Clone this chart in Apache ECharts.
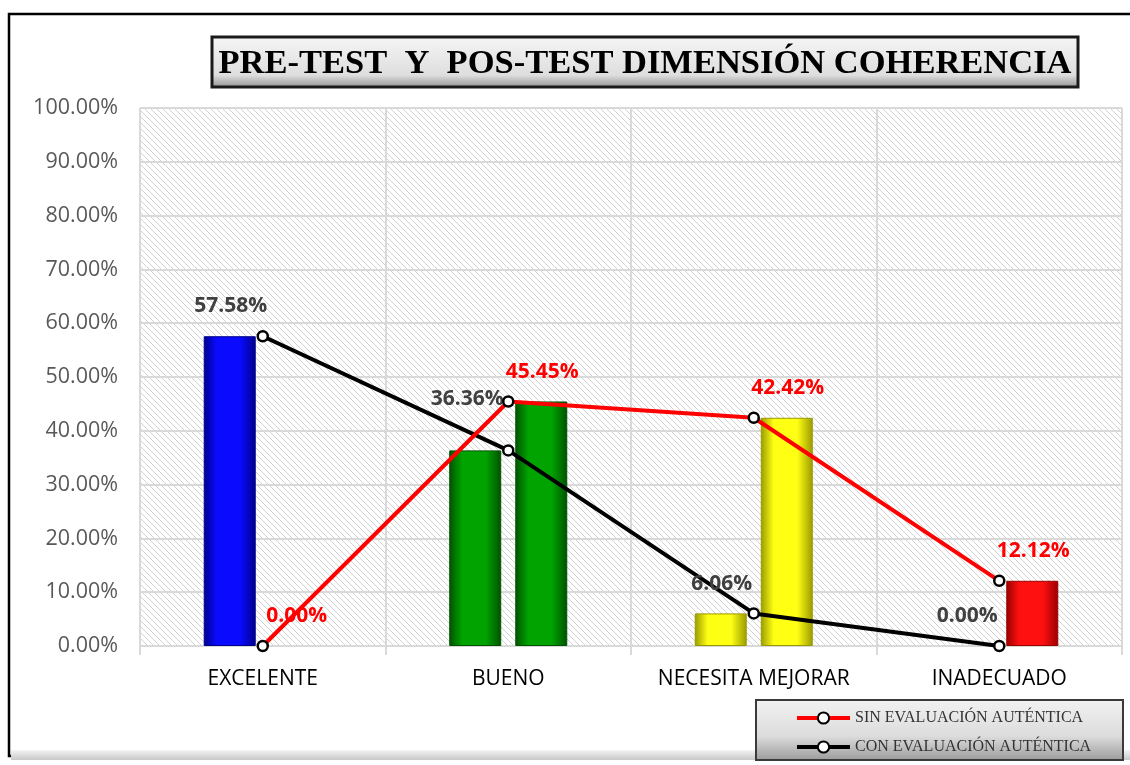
<!DOCTYPE html>
<html>
<head>
<meta charset="utf-8">
<script src="https://cdn.jsdelivr.net/npm/echarts@6/dist/echarts.min.js"></script>
<style>
  html, body { margin: 0; padding: 0; background: #fff; }
  #chart { width: 1130px; height: 765px; }
</style>
</head>
<body>
<div id="chart"></div>
<script>
const categories = ['EXCELENTE', 'BUENO', 'NECESITA MEJORAR', 'INADECUADO'];
const conValues = [57.58, 36.36, 6.06, 0.00];
const sinValues = [0.00, 45.45, 42.42, 12.12];
const yTicks = { min: 0, max: 100, interval: 10 };
const sinName = 'SIN EVALUACIÓN AUTÉNTICA';
const conName = 'CON EVALUACIÓN AUTÉNTICA';
const titleText = 'PRE-TEST  Y  POS-TEST DIMENSIÓN COHERENCIA';

// colores de las barras por categoria: [borde oscuro, centro]
const barColors = [
  ['#00008c', '#0a0aff'],
  ['#005200', '#00a300'],
  ['#9a9a00', '#ffff14'],
  ['#9a0000', '#ff1010']
];

// trama diagonal del fondo
const tile = document.createElement('canvas');
tile.width = 6;
tile.height = 6;
const tctx = tile.getContext('2d');
tctx.fillStyle = '#ffffff';
tctx.fillRect(0, 0, 6, 6);
tctx.strokeStyle = '#d2d2d2';
tctx.lineWidth = 1;
tctx.beginPath();
tctx.moveTo(-1, -1); tctx.lineTo(7, 7);
tctx.moveTo(-4, 2); tctx.lineTo(4, 10);
tctx.moveTo(2, -4); tctx.lineTo(10, 4);
tctx.stroke();

const barItem = (v, i) => ({
  value: v,
  itemStyle: {
    color: new echarts.graphic.LinearGradient(0, 0, 1, 0, [
      { offset: 0, color: barColors[i][0] },
      { offset: 0.25, color: barColors[i][1] },
      { offset: 0.7, color: barColors[i][1] },
      { offset: 1, color: barColors[i][0] }
    ]),
    borderColor: barColors[i][0],
    borderWidth: v > 0 ? 1 : 0
  }
});

const fmt = p => p.value.toFixed(2) + '%';

const myChart = echarts.init(document.getElementById('chart'));
const option = {
  animation: false,
  backgroundColor: '#ffffff',
  legend: {
    data: [sinName, conName],
    orient: 'vertical',
    left: 790,
    top: 705,
    itemWidth: 53,
    itemHeight: 14,
    itemGap: 13,
    lineStyle: { width: 4 },
    textStyle: {
      fontFamily: 'Liberation Serif',
      fontSize: 16,
      color: '#333333'
    }
  },
  grid: {
    left: 140,
    right: 8,
    top: 108,
    bottom: 119,
    show: true,
    borderWidth: 0,
    backgroundColor: { image: tile, repeat: 'repeat' },
    outerBoundsMode: 'none'
  },
  xAxis: {
    type: 'category',
    data: categories,
    axisLine: { lineStyle: { color: '#d9d9d9', width: 2 } },
    axisTick: { show: true, interval: 0, length: 9, lineStyle: { color: '#d9d9d9', width: 2 } },
    splitLine: { show: true, interval: 0, lineStyle: { color: '#d9d9d9', width: 2 } },
    axisLabel: {
      interval: 0,
      hideOverlap: false,
      color: '#000000',
      fontFamily: 'Open Sans',
      fontSize: 21,
      margin: 23
    }
  },
  yAxis: {
    type: 'value',
    min: yTicks.min,
    max: yTicks.max,
    interval: yTicks.interval,
    axisLine: { show: false },
    axisTick: { show: false },
    splitLine: { lineStyle: { color: '#d9d9d9', width: 2 } },
    axisLabel: {
      color: '#595959',
      fontFamily: 'Open Sans',
      fontSize: 21.5,
      margin: 22,
      formatter: v => v.toFixed(2) + '%'
    }
  },
  graphic: [
    {
      type: 'rect',
      z: -10,
      shape: { x: 9, y: 14, width: 1140, height: 742 },
      style: { fill: '#ffffff', stroke: '#000000', lineWidth: 2.5 }
    },
    {
      type: 'rect',
      z: -9,
      shape: { x: 11, y: 750, width: 1130, height: 10 },
      style: {
        fill: new echarts.graphic.LinearGradient(0, 0, 0, 1, [
          { offset: 0, color: '#f4f4f4' },
          { offset: 1, color: '#c8c8c8' }
        ])
      }
    },
    {
      type: 'rect',
      z: 1,
      shape: { x: 212, y: 37, width: 866, height: 50 },
      style: {
        fill: new echarts.graphic.LinearGradient(0, 0, 0, 1, [
          { offset: 0, color: '#f6f6f6' },
          { offset: 0.75, color: '#dedede' },
          { offset: 1, color: '#8c8c8c' }
        ]),
        stroke: '#1a1a1a',
        lineWidth: 3
      }
    },
    {
      type: 'text',
      z: 2,
      x: 645,
      y: 64,
      style: {
        text: titleText,
        fill: '#000000',
        font: 'bold 34.5px "Liberation Serif"',
        align: 'center',
        verticalAlign: 'middle'
      }
    },
    {
      type: 'rect',
      z: 1,
      shape: { x: 756, y: 700, width: 367, height: 60 },
      style: {
        fill: new echarts.graphic.LinearGradient(0, 0, 0, 1, [
          { offset: 0, color: '#f2f2f2' },
          { offset: 0.6, color: '#dcdcdc' },
          { offset: 1, color: '#9a9a9a' }
        ]),
        stroke: '#3a3a3a',
        lineWidth: 2
      }
    }
  ],
  series: [
    {
      name: 'pre',
      type: 'bar',
      barWidth: 52,
      barGap: '27%',
      data: conValues.map(barItem),
      z: 2
    },
    {
      name: 'pos',
      type: 'bar',
      barWidth: 52,
      barGap: '27%',
      data: sinValues.map(barItem),
      z: 2
    },
    {
      name: sinName,
      type: 'line',
      data: sinValues,
      symbol: 'circle',
      symbolSize: 10,
      z: 5,
      lineStyle: { color: '#ff0000', width: 4 },
      itemStyle: { color: '#ffffff', borderColor: '#000000', borderWidth: 2.5 },
      label: {
        show: true,
        position: 'top',
        offset: [34, -8],
        formatter: fmt,
        color: '#ff0000',
        fontFamily: 'Open Sans',
        fontWeight: 'bold',
        fontSize: 21
      }
    },
    {
      name: conName,
      type: 'line',
      data: conValues.map((v, i) => i === 1
        ? { value: v, label: { offset: [-41, -30] } }
        : v),
      symbol: 'circle',
      symbolSize: 10,
      z: 4,
      lineStyle: { color: '#000000', width: 4 },
      itemStyle: { color: '#ffffff', borderColor: '#000000', borderWidth: 2.5 },
      label: {
        show: true,
        position: 'top',
        offset: [-32, -8],
        formatter: fmt,
        color: '#404040',
        fontFamily: 'Open Sans',
        fontWeight: 'bold',
        fontSize: 21
      }
    }
  ]
};
myChart.setOption(option);
</script>
</body>
</html>
